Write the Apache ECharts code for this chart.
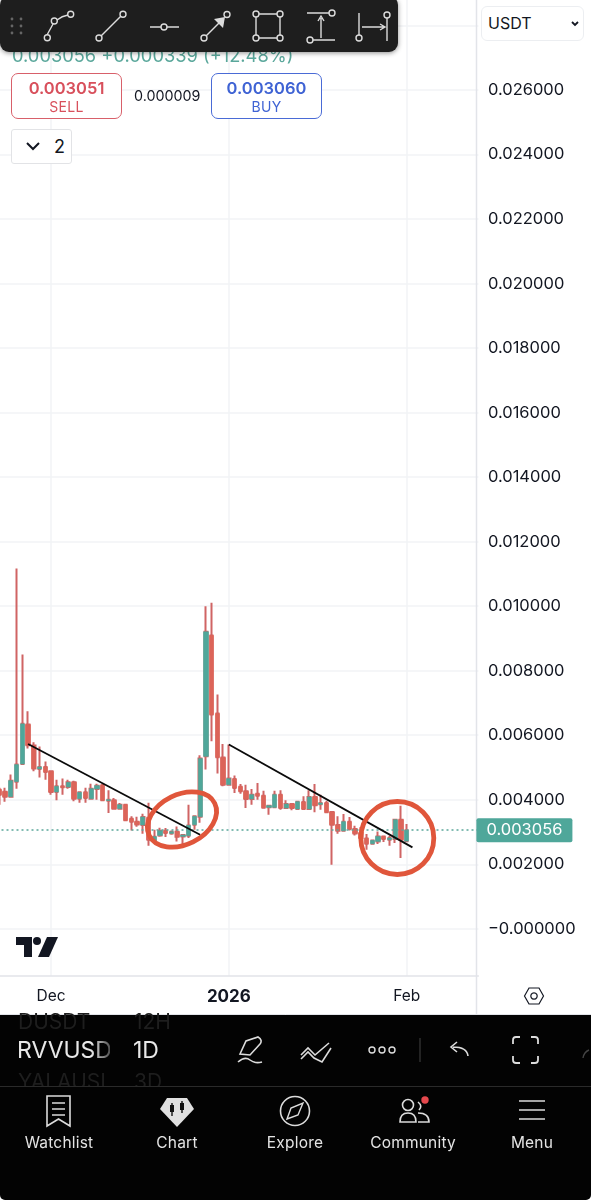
<!DOCTYPE html>
<html>
<head>
<meta charset="utf-8">
<title>RVVUSDT 1D</title>
<script src="https://cdn.jsdelivr.net/npm/echarts@6/dist/echarts.min.js"></script>
<style>
html, body { margin: 0; padding: 0; background: #fff; }
#page { position: relative; width: 591px; height: 1200px; overflow: hidden; font-family: Inter, sans-serif; }
/* canvas starts left of the page: the first candle is cut by the screen edge */
#chart { position: absolute; left: -20px; top: 0; width: 611px; height: 1200px; }
.abs { position: absolute; white-space: nowrap; }
#quote { left: 12px; top: 44px; font-size: 18.3px; color: #5aa79b; }
.trade { top: 73px; width: 109px; height: 44px; border-radius: 7px; border: 1.3px solid; text-align: center; background: #fff; }
.trade b { display: block; font-size: 16.5px; font-weight: 600; margin-top: 4px; line-height: 20px; }
.trade span { display: block; font-size: 14px; line-height: 18px; letter-spacing: .3px; }
#sell { left: 11px; color: #d8505c; border-color: #d8606a; }
#buy { left: 211px; color: #3f63d4; border-color: #4a6bd6; }
#spread { left: 134px; top: 87px; font-size: 14.3px; color: #131722; }
#hide { left: 11px; top: 129px; width: 59px; height: 33px; border: 1.5px solid #e2e3e6; border-radius: 3px; background: #fff; }
#hide span { position: absolute; left: 42px; top: 6px; font-size: 18px; color: #131722; }
#bar { left: 0; top: -4px; width: 398px; height: 56px; background: #1e1e1e; border-radius: 9px; box-shadow: 0 1px 5px rgba(0,0,0,.45); }
#unit { left: 481px; top: 6px; width: 101px; height: 33px; border: 1.2px solid #eceef1; border-radius: 6px; background: #fff; font-size: 16px; line-height: 33px; color: #131722; }
#unit span { margin-left: 6px; }
#panel { left: 0; top: 1015px; width: 591px; height: 185px; background: #030303; border-radius: 0 0 5px 5px; }
#sep { left: 0; top: 1086px; width: 591px; height: 1px; background: #2a2a2a; }
.sym { font-size: 23px; color: #e8e8e8; }
.ghost { font-size: 21px; color: #1e1e1e; }
.nav { top: 1133px; font-size: 15.5px; color: #e4e4e4; transform: translateX(-50%); letter-spacing: .2px; }
svg { position: absolute; left: 0; top: 0; overflow: visible; }
</style>
</head>
<body>
<div id="page">
  <div id="chart"></div>

  <div class="abs" id="quote">0.003056 +0.000339 (+12.48%)</div>
  <div class="abs trade" id="sell"><b>0.003051</b><span>SELL</span></div>
  <div class="abs" id="spread">0.000009</div>
  <div class="abs trade" id="buy"><b>0.003060</b><span>BUY</span></div>
  <div class="abs" id="hide"><span>2</span></div>
  <div class="abs" id="unit"><span>USDT</span></div>
  <div class="abs" id="bar"></div>

  <div class="abs" id="panel"></div>
  <div class="abs ghost" style="left:18px;top:1009px;height:22px;overflow:hidden">DUSDT</div>
  <div class="abs ghost" style="left:134px;top:1009px;height:22px;overflow:hidden">12H</div>
  <div class="abs sym" style="left:17px;top:1036px;width:93px;overflow:hidden;-webkit-mask-image:linear-gradient(90deg,#000 80%,rgba(0,0,0,.35))">RVVUSDT</div>
  <div class="abs sym" style="left:133px;top:1036px">1D</div>
  <div class="abs ghost" style="left:18px;top:1069px;height:17px;overflow:hidden;width:86px">YALAUSDT</div>
  <div class="abs ghost" style="left:134px;top:1069px;height:17px;overflow:hidden">3D</div>
  <div class="abs" id="sep"></div>
  <div class="abs nav" style="left:59px">Watchlist</div>
  <div class="abs nav" style="left:177px">Chart</div>
  <div class="abs nav" style="left:295px">Explore</div>
  <div class="abs nav" style="left:413px">Community</div>
  <div class="abs nav" style="left:532px">Menu</div>

  <svg width="591" height="1200" fill="none" stroke="#dcdcdc" stroke-width="1.4">
    <!-- drawing tools -->
    <g fill="#666" stroke="none">
      <circle cx="12" cy="19" r="1.4"/><circle cx="21" cy="19" r="1.4"/><circle cx="12" cy="26" r="1.4"/>
      <circle cx="21" cy="26" r="1.4"/><circle cx="12" cy="33" r="1.4"/><circle cx="21" cy="33" r="1.4"/>
    </g>
    <g id="tools">
      <path d="M47 35 L53 24 M57 20 Q62 16 68 15"/>
      <circle cx="47.3" cy="37.7" r="3"/><circle cx="54.3" cy="21" r="3"/><circle cx="70.7" cy="14.3" r="3"/>
      <path d="M101 36 L121 16"/><circle cx="99" cy="38" r="3"/><circle cx="123" cy="14.3" r="3"/>
      <path d="M150 27 H161 M167 27 H179"/><circle cx="164" cy="27" r="3"/>
      <path d="M206 36 L222 20"/><path d="M214 19 L225 17 L223 28 Z" fill="#dcdcdc" stroke="none"/>
      <circle cx="204" cy="38" r="3"/><circle cx="227" cy="14.5" r="3"/>
      <path d="M259 14 H277 M259 38 H277 M256 17 V35 M280 17 V35"/>
      <circle cx="256" cy="14" r="3"/><circle cx="280" cy="14" r="3"/><circle cx="256" cy="38" r="3"/><circle cx="280" cy="38" r="3"/>
      <path d="M307 13 H329 M313 40 H335 M321 38 V18 M318 21 L321 16 L324 21"/>
      <circle cx="332" cy="13" r="3"/><circle cx="310" cy="40" r="3"/>
      <path d="M359 13 V35 M387 18 V41 M362 27 H384 M380 24 L385 27 L380 30"/>
      <circle cx="359" cy="38" r="3"/><circle cx="387" cy="15" r="3"/>
    </g>
    <!-- hide drawings chevron, select arrow -->
    <path d="M27 143 L33 149 L39 143" stroke="#131722" stroke-width="2"/>
    <path d="M572 22 L575 25 L578 22" stroke="#131722" stroke-width="1.8"/>
    <!-- settings hexagon -->
    <path d="M524.5 996 L529 988 H539 L543.5 996 L539 1004 H529 Z M534 992.8 a3.2 3.2 0 1 0 .01 0" stroke="#131722" stroke-width="1.2"/>
    <!-- tradingview logo -->
    <path d="M16 937 H32 V957 H24 V945 H16 Z" fill="#131722" stroke="none"/>
    <circle cx="37" cy="941" r="4" fill="#131722" stroke="none"/>
    <path d="M47 937 H58 L49 957 H38 Z" fill="#131722" stroke="none"/>
    <!-- symbol row icons -->
    <path d="M240 1054 L246 1041 L258 1037 Q263 1040 260 1044 L250 1055 Z M238 1062 Q245 1056 250 1060 T262 1062" stroke-width="1.6"/>
    <path d="M301 1055 L308 1048 L315 1055 L329 1043 M301 1059 L308 1052 L314 1058 L322 1062 L331 1048" stroke-width="1.6"/>
    <circle cx="372" cy="1050" r="3"/><circle cx="382" cy="1050" r="3"/><circle cx="392" cy="1050" r="3"/>
    <path d="M420 1038 V1062" stroke="#333"/>
    <path d="M468 1056 Q467 1047 453 1047 M457 1042 L451 1047 L457 1052" stroke-width="1.6"/>
    <path d="M513 1044 V1040 Q513 1037 516 1037 H520 M531 1037 H535 Q538 1037 538 1040 V1044 M538 1056 V1060 Q538 1063 535 1063 H531 M520 1063 H516 Q513 1063 513 1060 V1056" stroke-width="1.8"/>
    <path d="M583 1058 Q584 1052 589 1050" stroke="#444"/>
    <!-- nav icons -->
    <path d="M47 1096 H70 V1126 L58.5 1119 L47 1126 Z M52 1103 H65 M52 1109 H65 M52 1115 H65" stroke-width="1.6"/>
    <path d="M167 1098 H187 L194 1109 L177 1127 L160 1109 Z" fill="#e0e0e0" stroke="none"/>
    <path d="M172 1103 V1116 M182 1101 V1113" stroke="#111"/>
    <rect x="170" y="1105" width="4" height="7" fill="#111" stroke="none"/><rect x="180" y="1103" width="4" height="7" fill="#111" stroke="none"/>
    <circle cx="295" cy="1111" r="14.5" stroke-width="1.6"/>
    <path d="M303 1103 L298 1115 L287 1119 L291 1108 Z" stroke-width="1.4"/>
    <circle cx="408" cy="1105" r="5.5" stroke-width="1.6"/>
    <path d="M400 1122 Q400 1113 408 1113 Q416 1113 416 1122 Z M418 1102 Q423 1106 419 1110 M418 1113 Q429 1113 429 1122 H418" stroke-width="1.6"/>
    <circle cx="425" cy="1100" r="3.7" fill="#e5484d" stroke="none"/>
    <path d="M519 1101 H545 M519 1110 H545 M519 1119 H545" stroke-width="1.7"/>
  </svg>
</div>
<script>
// Nov 22 2025 .. Feb 1 2026, then empty space on the right of the chart
var dates = [
  '2025-11-22','2025-11-23','2025-11-24','2025-11-25','2025-11-26','2025-11-27','2025-11-28','2025-11-29','2025-11-30',
  '2025-12-01','2025-12-02','2025-12-03','2025-12-04','2025-12-05','2025-12-06','2025-12-07','2025-12-08','2025-12-09','2025-12-10',
  '2025-12-11','2025-12-12','2025-12-13','2025-12-14','2025-12-15','2025-12-16','2025-12-17','2025-12-18','2025-12-19','2025-12-20',
  '2025-12-21','2025-12-22','2025-12-23','2025-12-24','2025-12-25','2025-12-26','2025-12-27','2025-12-28','2025-12-29','2025-12-30','2025-12-31',
  '2026-01-01','2026-01-02','2026-01-03','2026-01-04','2026-01-05','2026-01-06','2026-01-07','2026-01-08','2026-01-09','2026-01-10',
  '2026-01-11','2026-01-12','2026-01-13','2026-01-14','2026-01-15','2026-01-16','2026-01-17','2026-01-18','2026-01-19','2026-01-20',
  '2026-01-21','2026-01-22','2026-01-23','2026-01-24','2026-01-25','2026-01-26','2026-01-27','2026-01-28','2026-01-29','2026-01-30','2026-01-31',
  '2026-02-01','2026-02-02','2026-02-03','2026-02-04','2026-02-05','2026-02-06','2026-02-07','2026-02-08','2026-02-09','2026-02-10','2026-02-11','2026-02-12','2026-02-13'
];
var opens = [
  .004313,.004251,.004096,.004561,.005111,.006330,.005678,.004956,.005018,
  .004881,.004242,.004416,.004397,.004540,.004034,.004229,.004034,.004335,.004447,
  .003972,.003981,.003724,.003848,.003413,.003320,.003218,.003444,.002731,.002895,
  .003041,.002957,.003010,.002864,.002886,.003227,.003475,.005346,.009092,.006671,.005306,
  .004468,.004645,.004406,.004260,.004025,.004189,.004127,.003764,.003764,.004158,
  .003745,.003869,.003714,.003931,.003714,.004087,.003857,.003900,.003621,.003218,
  .003041,.003320,.003094,.002970,.002802,.002638,.002709,.002864,.002762,.002783,.003382,
  .002717
];
var closes = [
  .004158,.004096,.004592,.005089,.006352,.005688,.004965,.005018,.004862,
  .004242,.004416,.004385,.004540,.004034,.004229,.004056,.004344,.004437,.003981,
  .004003,.003724,.003848,.003361,.003320,.003236,.003466,.002762,.002855,.003041,
  .002970,.003010,.002855,.002908,.003205,.003485,.005275,.009206,.006640,.005315,.004468,
  .004655,.004366,.004260,.004025,.004158,.004127,.003755,.003817,.004158,.003745,
  .003869,.003745,.003941,.003714,.004087,.003826,.003900,.003609,.003227,.003041,
  .003320,.003094,.002957,.002814,.002638,.002740,.002864,.002783,.002814,.003382,.002762,
  .003056
];
var lows = [
  .003848,.003941,.004065,.004344,.005089,.005585,.004881,.004686,.004623,
  .004158,.003981,.004158,.004344,.003950,.003910,.003910,.004003,.004003,.003950,
  .003590,.003714,.003714,.003330,.003050,.003165,.002948,.002575,.002709,.002855,
  .002845,.002917,.002709,.002575,.002814,.003072,.003289,.004934,.005812,.004810,.004416,
  .004447,.004211,.004189,.003745,.003848,.004003,.003745,.003537,.003764,.003693,
  .003714,.003671,.003693,.003693,.003714,.003609,.003693,.003590,.001986,.002948,
  .003041,.003050,.002895,.002740,.002451,.002607,.002628,.002690,.002575,.002659,.002194,
  .002717
];
var highs = [
  .004375,.004375,.004779,.011171,.008502,.006743,.005781,.005647,.005182,
  .004912,.004623,.004655,.004623,.004592,.004260,.004375,.004499,.004499,.004499,
  .004291,.004056,.003900,.003869,.003485,.003475,.003568,.003910,.003072,.003134,
  .003125,.003050,.003174,.002917,.003848,.003506,.005377,.010001,.010106,.007261,.005731,
  .005710,.004748,.004490,.004468,.004335,.004521,.004282,.003817,.004282,.004291,
  .003981,.003900,.003972,.004105,.004291,.004490,.004158,.003972,.003621,.003485,
  .003559,.003466,.003196,.003156,.002939,.002762,.003019,.002886,.002886,.003382,.003817,
  .003249
];
var lastPrice = 0.003056;
var yTicks = [0, .002, .004, .006, .008, .010, .012, .014, .016, .018, .020, .022, .024, .026, .028];
var xLabels = { '2025-12-01': 'Dec', '2026-01-01': '{y|2026}', '2026-02-01': 'Feb' };
// hand drawn trend lines
var trendA = [['2025-11-27', 0.005730], ['2025-12-27', 0.002917]];
var trendB = [['2026-01-01', 0.005710], ['2026-02-02', 0.002523]];

var UP = '#4fa79a', DOWN = '#dc6459', WICK = '#d06464', GRID = '#f2f3f6', BORDER = '#e2e4e9';

var wickData = [], bodyData = [];
for (var i = 0; i < opens.length; i++) {
  wickData.push([opens[i], closes[i], lows[i], highs[i]]);
  bodyData.push([opens[i], closes[i], Math.min(opens[i], closes[i]), Math.max(opens[i], closes[i])]);
}

function isMonth(index) {
  return xLabels[dates[index]] !== undefined;
}

var dom = document.getElementById('chart');
var myChart = echarts.init(dom, null, { renderer: 'canvas' });

var option = {
  animation: false,
  textStyle: { fontFamily: 'Inter' },
  grid: { left: 16.5, top: 0, width: 481.9, height: 976, containLabel: false },
  xAxis: {
    type: 'category',
    data: dates,
    axisLine: { show: true, onZero: false, lineStyle: { color: BORDER, width: 1.5 } },
    axisTick: { show: false },
    axisLabel: {
      interval: isMonth,
      margin: 12,
      fontSize: 15.5,
      color: '#131722',
      fontFamily: 'Inter',
      formatter: function (v) { return xLabels[v] || ''; },
      rich: { y: { fontSize: 17, fontWeight: 700, color: '#131722', fontFamily: 'Inter' } }
    },
    splitLine: { show: true, alignWithLabel: true, interval: isMonth, lineStyle: { color: GRID, width: 1.5 } }
  },
  yAxis: {
    type: 'value',
    position: 'right',
    min: -0.001463,
    max: 0.028789,
    axisLine: { show: false },
    axisTick: { show: false, customValues: yTicks },
    axisLabel: {
      customValues: yTicks.slice(0, 14),
      margin: 9.5,
      fontSize: 16.5,
      padding: [2, 0, 0, 0],
      color: '#131722',
      fontFamily: 'Inter',
      formatter: function (v) { return v === 0 ? '\u22120.000000' : v.toFixed(6); }
    },
    splitLine: { show: true, lineStyle: { color: GRID, width: 1.5 } }
  },
  series: [
    {
      name: 'wicks',
      type: 'candlestick',
      data: wickData,
      barWidth: 3,
      z: 2,
      itemStyle: { color: WICK, color0: WICK, borderColor: WICK, borderColor0: WICK, borderWidth: 2 }
    },
    {
      name: 'RVVUSDT',
      type: 'candlestick',
      data: bodyData,
      barWidth: 4.8,
      z: 3,
      itemStyle: { color: UP, color0: DOWN, borderColor: UP, borderColor0: DOWN, borderWidth: 0.6 }
    },
    {
      name: 'trend 1',
      type: 'line',
      data: trendA,
      showSymbol: false,
      z: 5,
      lineStyle: { color: '#0b0b0b', width: 1.8 },
      markLine: {
        silent: true,
        symbol: 'none',
        animation: false,
        precision: 6,
        data: [{ yAxis: lastPrice }],
        lineStyle: { color: '#5aa79b', type: [2, 3], width: 1.5 },
        label: {
          show: true,
          position: 'end',
          distance: -2,
          formatter: '0.003056',
          color: '#fff',
          fontSize: 16.5,
          fontFamily: 'Inter',
          backgroundColor: '#4fa79a',
          borderRadius: 2,
          padding: [4, 10, 3, 10]
        }
      }
    },
    { name: 'trend 2', type: 'line', data: trendB, showSymbol: false, z: 5, lineStyle: { color: '#0b0b0b', width: 1.8 } }
  ],
  graphic: [
    { type: 'line', silent: true, z: 1, shape: { x1: 496.5, y1: 0, x2: 496.5, y2: 1015 }, style: { stroke: BORDER, lineWidth: 1.5 } },
    { type: 'line', silent: true, z: 1, shape: { x1: 0, y1: 1014.5, x2: 611, y2: 1014.5 }, style: { stroke: BORDER, lineWidth: 1 } },
    { type: 'ellipse', silent: true, z: 10, x: 202, y: 819.5, rotation: 0.46,
      shape: { cx: 0, cy: 0, rx: 36.5, ry: 25 }, style: { fill: 'none', stroke: '#e0563b', lineWidth: 4.8 } },
    { type: 'ellipse', silent: true, z: 10, x: 417.3, y: 838, rotation: 0,
      shape: { cx: 0, cy: 0, rx: 36.5, ry: 36.5 }, style: { fill: 'none', stroke: '#e0563b', lineWidth: 4.8 } }
  ]
};

if (option && typeof option === 'object') {
  myChart.setOption(option);
}
window.addEventListener('resize', myChart.resize);
</script>
</body>
</html>
